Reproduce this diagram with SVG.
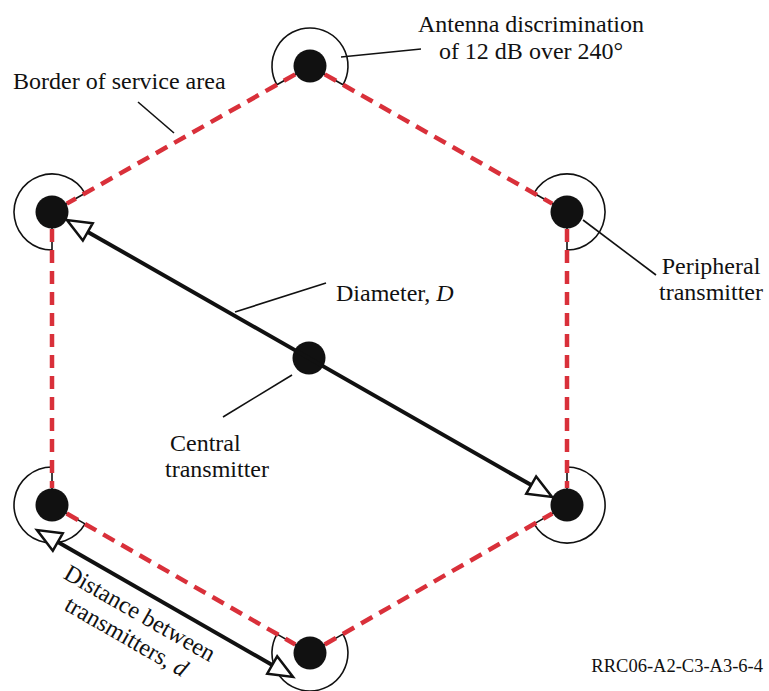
<svg xmlns="http://www.w3.org/2000/svg" width="769" height="691" viewBox="0 0 769 691">
<style>
.lbl{font-family:"Liberation Serif","Times New Roman",serif;font-size:24px;fill:#111}
.ant{fill:none;stroke:#111;stroke-width:1.6}
.dot{fill:#111}
.edge{fill:none;stroke:#d9303a;stroke-width:4.5;stroke-dasharray:13 8}
.lead{fill:none;stroke:#111;stroke-width:1.6}
.arr{fill:none;stroke:#111;stroke-width:4;marker-start:url(#oa);marker-end:url(#oa)}
</style>
<defs>
<marker id="oa" markerUnits="userSpaceOnUse" markerWidth="30" markerHeight="30" refX="0" refY="0" orient="auto-start-reverse" overflow="visible">
<path d="M0,-10 L24,0 L0,10 Z" fill="#fff" stroke="#111" stroke-width="2.5"/>
</marker>
</defs>
<rect width="769" height="691" fill="#fff"/>

<g id="node-top">
<path class="ant" d="M276.9,84.7 A38,38 0 1 1 343,84.8 M276.9,84.7 L310,66 L343,84.8"/>
<circle class="dot" cx="310" cy="66" r="16.5"/>
</g>
<g id="node-upper-left">
<path class="ant" d="M52,250 A38,38 0 1 1 85.1,193.3 M52,250 L52,212 L85.1,193.3"/>
<circle class="dot" cx="52" cy="212" r="16.5"/>
</g>
<g id="node-upper-right">
<path class="ant" d="M534,193.2 A38,38 0 1 1 567,250 M534,193.2 L567,212 L567,250"/>
<circle class="dot" cx="567" cy="212" r="16.5"/>
</g>
<g id="node-lower-left">
<path class="ant" d="M85,523.9 A38,38 0 1 1 52,467 M85,523.9 L52,505 L52,467"/>
<circle class="dot" cx="52" cy="505" r="16.5"/>
</g>
<g id="node-lower-right">
<path class="ant" d="M567,467 A38,38 0 1 1 534.1,523.9 M567,467 L567,505 L534.1,523.9"/>
<circle class="dot" cx="567" cy="505" r="16.5"/>
</g>
<g id="node-bottom">
<path class="ant" d="M342.9,634.1 A38,38 0 1 1 277,634.1 M342.9,634.1 L310,653 L277,634.1"/>
<circle class="dot" cx="310" cy="653" r="16.5"/>
</g>
<g id="node-central">
<circle class="dot" cx="309" cy="358" r="16.5"/>
</g>

<g id="connectors">
<path class="edge" d="M295.2,74.4 L66.8,203.6"/>
<path class="edge" d="M324.8,74.4 L552.2,203.6"/>
<path class="edge" d="M52,229 L52,488"/>
<path class="edge" d="M567,229 L567,488"/>
<path class="edge" d="M66.7,513.5 L295.3,644.5"/>
<path class="edge" d="M324.7,644.5 L552.3,513.5"/>
<path class="arr" d="M87.8,231.9 L531.2,485.1"/>
<path class="arr" d="M57.8,542 L272.2,665"/>
<path class="lead" d="M341,57 L421,49"/>
<path class="lead" d="M138,102 L174,133"/>
<path class="lead" d="M583,220 L656,275"/>
<path class="lead" d="M235,312 L326,283"/>
<path class="lead" d="M292,375 L223,417"/>
</g>

<g id="labels">
<text class="lbl" x="531" y="32" text-anchor="middle">Antenna discrimination</text>
<text class="lbl" x="531" y="59" text-anchor="middle">of 12 dB over 240°</text>
<text class="lbl" x="13" y="89">Border of service area</text>
<text class="lbl" x="711" y="274" text-anchor="middle">Peripheral</text>
<text class="lbl" x="711" y="300" text-anchor="middle">transmitter</text>
<text class="lbl" x="336" y="301">Diameter, <tspan font-style="italic">D</tspan></text>
<text class="lbl" x="170" y="451">Central</text>
<text class="lbl" x="165" y="477">transmitter</text>
<g transform="translate(136,620) rotate(29.8)">
<text class="lbl" x="0" y="0" text-anchor="middle">Distance between</text>
<text class="lbl" x="0" y="27" text-anchor="middle">transmitters, <tspan font-style="italic">d</tspan></text>
</g>
<text x="763" y="672" text-anchor="end" style="font-family:'Liberation Serif','Times New Roman',serif;font-size:18.5px;fill:#111">RRC06-A2-C3-A3-6-4</text>
</g>
</svg>
